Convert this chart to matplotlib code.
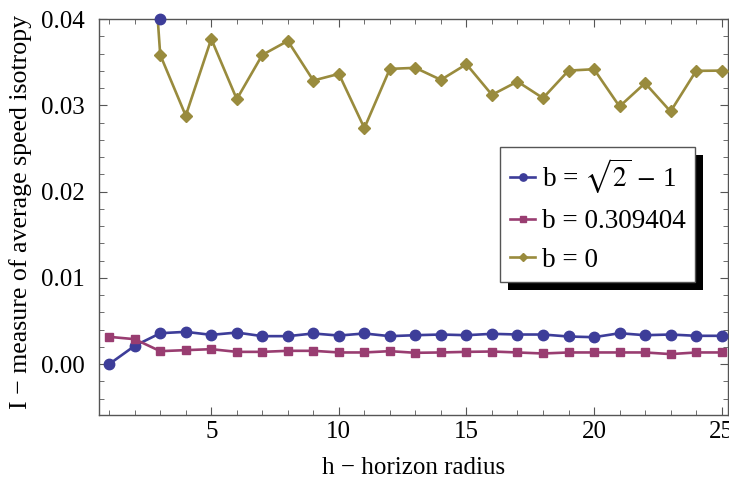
import numpy as np
import matplotlib
matplotlib.use("Agg")
import matplotlib.pyplot as plt
from matplotlib.ticker import MultipleLocator, FixedLocator
from matplotlib.patches import Rectangle

plt.rcParams['font.family'] = ['Liberation Serif', 'DejaVu Serif']
plt.rcParams['mathtext.fontset'] = 'stix'

h = list(range(1, 26))

iso_sqrt2 = [0.0000, 0.00212, 0.00358, 0.00374, 0.00339, 0.00366, 0.00324, 0.00324,
             0.00355, 0.00331, 0.00355, 0.00324, 0.00335, 0.00343, 0.00335, 0.00351,
             0.00343, 0.00343, 0.00320, 0.00312, 0.00358, 0.00335, 0.00343, 0.00328,
             0.00328]
iso_0309 = [0.00316, 0.00289, 0.00150, 0.00162, 0.00173, 0.00142, 0.00142, 0.00154,
            0.00154, 0.00135, 0.00135, 0.00150, 0.00131, 0.00135, 0.00142, 0.00146,
            0.00135, 0.00123, 0.00135, 0.00135, 0.00135, 0.00135, 0.00116, 0.00135,
            0.00135]
iso_zero = [0.120, 0.078, 0.03584, 0.02879, 0.03769, 0.03071, 0.03584, 0.03746,
            0.03287, 0.03364, 0.02736, 0.03422, 0.03434, 0.03295, 0.03476, 0.03121,
            0.03275, 0.03083, 0.03402, 0.03418, 0.02986, 0.03257, 0.02928, 0.03399,
            0.03402]

# point plotted on the upper frame edge where the b = 0 curve leaves the range
edge_marker = (3, 0.04)

labels = [r"b = $\sqrt{2}$ $-$ 1", "b = 0.309404", "b = 0"]
colors = ["#3d3d99", "#993d71", "#998b3d"]

fig = plt.figure(figsize=(7.29, 4.80), dpi=100)
ax = fig.add_axes([0.1358, 0.1354, 0.8628, 0.8250])

ax.plot(h, iso_sqrt2, color=colors[0], lw=1.9, marker='o', ms=7.5,
        label=labels[0], zorder=3)
ax.plot(h, iso_0309, color=colors[1], lw=1.9, marker='s', ms=6.2,
        label=labels[1], zorder=3)
ax.plot(h, iso_zero, color=colors[2], lw=1.9, marker='D', ms=6.2,
        label=labels[2], zorder=3)
ax.plot([edge_marker[0]], [edge_marker[1]], 'o', color=colors[0], ms=7.5,
        clip_on=False, zorder=4)

ax.set_xlim(0.6, 25.25)
ax.set_ylim(-0.0059, 0.04)

ax.xaxis.set_major_locator(FixedLocator([5, 10, 15, 20, 25]))
ax.xaxis.set_minor_locator(MultipleLocator(1))
ax.yaxis.set_major_locator(FixedLocator([0.0, 0.01, 0.02, 0.03, 0.04]))
ax.yaxis.set_minor_locator(MultipleLocator(0.002))
ax.set_yticklabels(["0.00", "0.01", "0.02", "0.03", "0.04"])

for s in ax.spines.values():
    s.set_color("#555555")
    s.set_linewidth(1.0)

ax.tick_params(which='both', direction='in', top=True, right=True,
               color="#555555", labelsize=18, labelcolor='black')
ax.tick_params(which='major', length=6, width=0.8)
ax.tick_params(axis='x', which='major', pad=4)
ax.tick_params(axis='y', which='major', pad=10)
ax.tick_params(which='minor', length=3.5, width=0.6)

ax.set_xlabel("h \u2212 horizon radius", fontsize=18)
ax.set_ylabel("I \u2212 measure of average speed isotropy", fontsize=18.6)
ax.xaxis.set_label_coords(0.5, -0.107)
ax.yaxis.set_label_coords(-0.1065, 0.513)

leg = ax.legend(loc='upper left', bbox_to_anchor=(0.638, 0.678), fontsize=19.5,
                frameon=True, fancybox=False, shadow=False, handlelength=0.95,
                handletextpad=0.25, borderpad=0.35, labelspacing=0.5,
                borderaxespad=0.0, markerscale=0.7, framealpha=1.0)
leg.get_frame().set_edgecolor("#555555")
leg.get_frame().set_facecolor("white")
leg.get_frame().set_linewidth(1.0)
leg.set_zorder(6)

# drop shadow behind the legend box
fig.canvas.draw()
bb = leg.get_frame().get_window_extent().transformed(fig.transFigure.inverted())
dx, dy = 8 / 729, 8 / 480
fig.patches.append(Rectangle((bb.x0 + dx, bb.y0 - dy), bb.width, bb.height,
                             transform=fig.transFigure, facecolor='black',
                             edgecolor='none', zorder=5))
leg.remove()
fig.add_artist(leg)

fig.savefig("out.png", dpi=100)
